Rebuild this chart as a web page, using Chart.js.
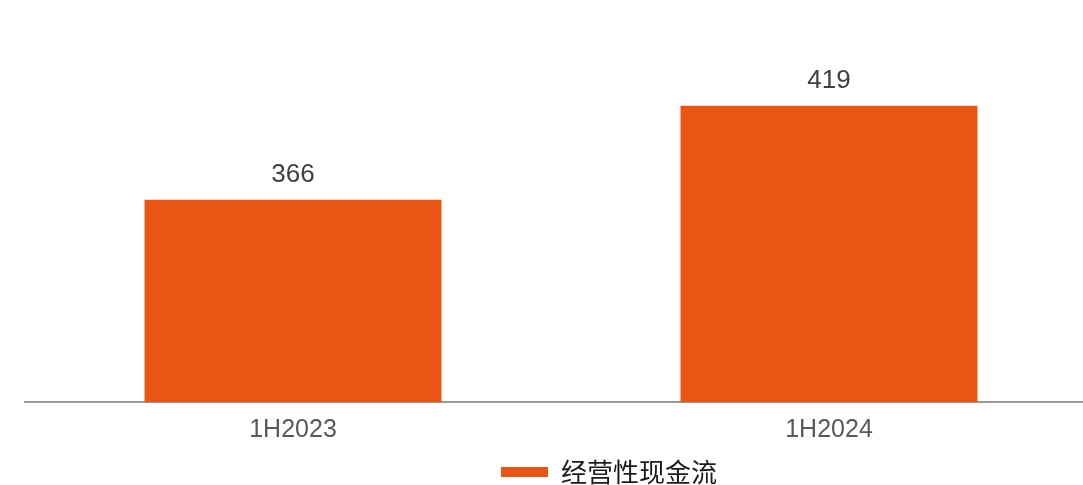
<!DOCTYPE html>
<html>
<head>
<meta charset="utf-8">
<script src="https://cdn.jsdelivr.net/npm/chart.js@4.4.1/dist/chart.umd.min.js"></script>
<style>
  html, body { margin: 0; padding: 0; background: #ffffff; overflow: hidden; }
  #wrap { width: 1083px; height: 485px; overflow: hidden; }
  #wrap canvas { display: block; }
</style>
</head>
<body>
<div id="wrap">
  <canvas id="cashFlow" width="1097" height="495" style="width:1097px;height:495px"></canvas>
</div>
<script>
// 经营性现金流（1H2023 / 1H2024）
const periods = ['1H2023', '1H2024'];
const cashFlow = [366, 419];
const seriesName = '经营性现金流';

const barColor = '#E95513';

// 柱顶数值
const valueLabels = {
    id: 'valueLabels',
    afterDatasetsDraw(chart) {
        const ctx = chart.ctx;
        const meta = chart.getDatasetMeta(0);
        ctx.save();
        ctx.font = '26px "Liberation Sans", Arial, sans-serif';
        ctx.fillStyle = '#404040';
        ctx.textAlign = 'center';
        ctx.textBaseline = 'alphabetic';
        meta.data.forEach((bar, i) => {
            ctx.fillText(String(cashFlow[i]), bar.x, bar.y - 18);
        });
        ctx.restore();
    }
};

// 图例整体右移
const legendShift = {
    id: 'legendShift',
    afterLayout(chart) {
        const lg = chart.legend;
        if (lg) {
            lg.left += 48;
            lg.right += 48;
        }
    }
};

const ctx = document.getElementById('cashFlow').getContext('2d');
const chart = new Chart(ctx, {
    type: 'bar',
    data: {
        labels: periods,
        datasets: [{
            label: seriesName,
            data: cashFlow,
            backgroundColor: barColor,
            borderWidth: 0,
            categoryPercentage: 1,
            barPercentage: 0.554
        }]
    },
    options: {
        responsive: false,
        animation: false,
        layout: {
            padding: { left: 25, right: 0, top: 33, bottom: 0 }
        },
        scales: {
            x: {
                grid: { display: false, drawTicks: false },
                border: { display: true, color: '#999999', width: 2 },
                ticks: {
                    color: '#595959',
                    padding: 13,
                    font: { family: '"Liberation Sans", Arial, sans-serif', size: 25 }
                }
            },
            y: {
                display: false,
                min: 252,
                max: 460
            }
        },
        plugins: {
            legend: {
                position: 'bottom',
                labels: {
                    boxWidth: 47,
                    boxHeight: 10,
                    padding: 1,
                    color: '#1a1a1a',
                    font: { family: '"Noto Sans CJK SC", sans-serif', size: 26 }
                }
            },
            tooltip: { enabled: false }
        }
    },
    plugins: [valueLabels, legendShift]
});
</script>
</body>
</html>
